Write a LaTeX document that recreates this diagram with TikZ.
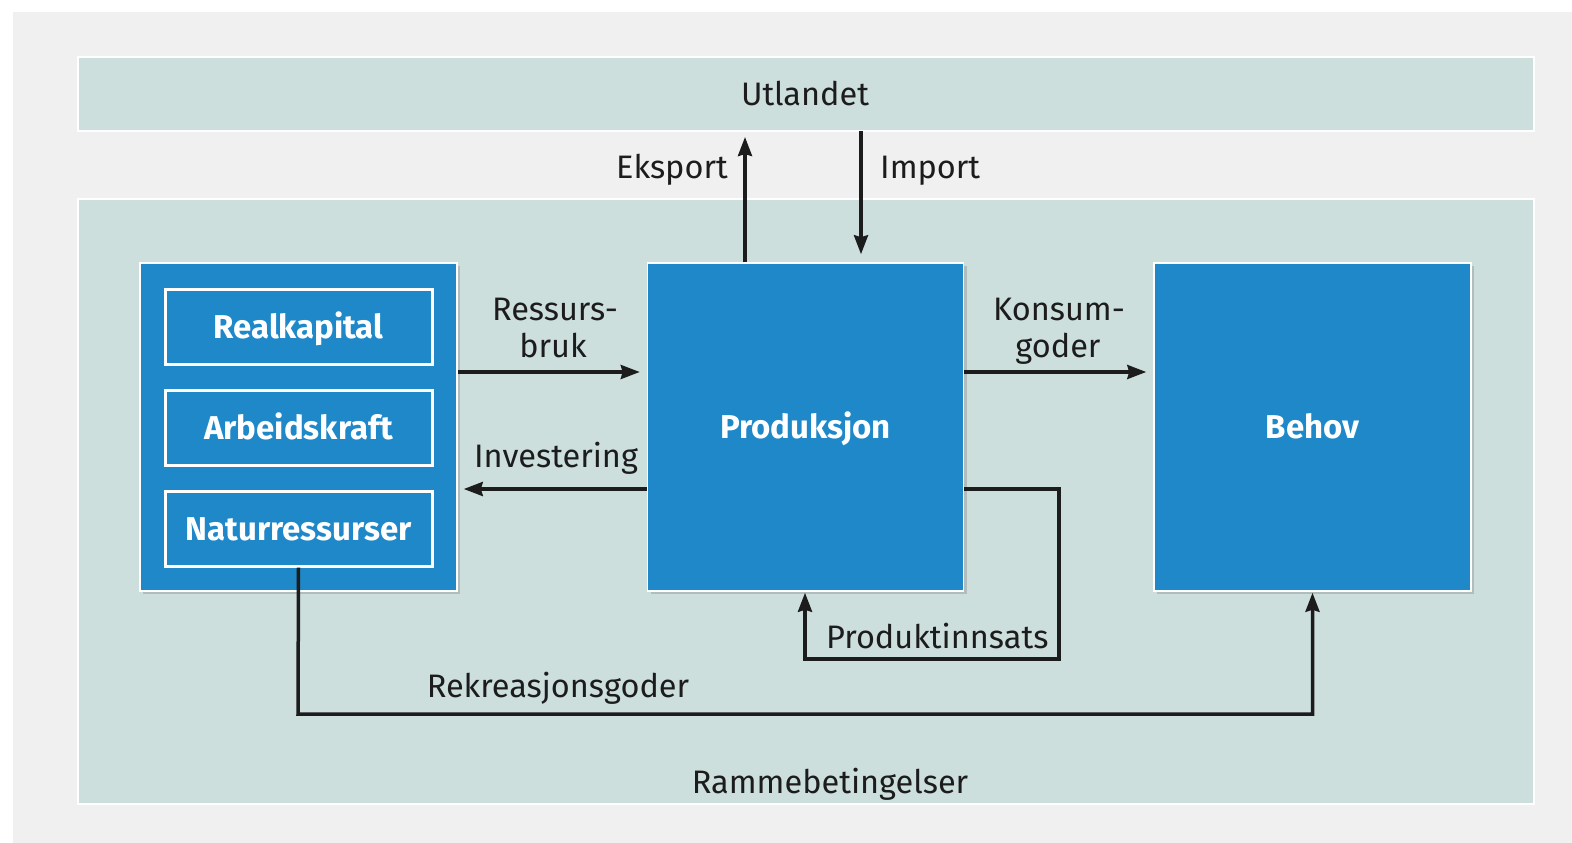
\documentclass[tikz,border=0pt]{standalone}
\usepackage{fontspec}
\setmainfont{Fira Sans}
\usetikzlibrary{arrows.meta,shadows}
\definecolor{pagegray}{RGB}{240,240,240}
\definecolor{teal}{RGB}{204,223,221}
\definecolor{bluebox}{RGB}{30,136,200}
\definecolor{ink}{RGB}{28,28,28}
\tikzset{
  band/.style={draw=white, line width=2pt, fill=teal, inner sep=0pt},
  bbox/.style={draw=white, line width=1.5pt, fill=bluebox, inner sep=0pt,
     text=white, font=\fontsize{33}{38}\selectfont\bfseries,
     text height=23pt, text depth=0pt,
     drop shadow={opacity=0.35, shadow xshift=3pt, shadow yshift=-3pt}},
  ibox/.style={draw=white, line width=3pt, fill=bluebox, inner sep=0pt,
     text=white, font=\fontsize{33}{38}\selectfont\bfseries,
     text height=23pt, text depth=0pt,
     minimum width=267pt, minimum height=75pt},
  lbl/.style={text=ink, font=\fontsize{32.5}{37}\selectfont, inner sep=0pt, anchor=base},
  arr/.style={draw=ink, line width=3.5pt, -{Stealth[length=19pt,width=14pt,inset=2pt]}},
}
\begin{document}
\begin{tikzpicture}[x=1pt,y=-1pt]
\useasboundingbox (0,0) rectangle (1572,843);
\fill[white] (0,0) rectangle (1572,843);
\fill[pagegray] (13,12) rectangle (1572,843);
% bands
\node[band, minimum width=1456pt, minimum height=74pt] (utl) at (806,94) {};
\node[lbl] (utltxt) at (805,106) {Utlandet};
\node[band, minimum width=1456pt, minimum height=605pt] (ramme) at (806,501.5) {};
\node[lbl] (rammetxt) at (830,793) {Rammebetingelser};
% boxes
\node[bbox, minimum width=317pt, minimum height=328pt] (left) at (298.5,427) {};
\node[ibox] (real) at (298.5,327) {Realkapital};
\node[ibox] (arb) at (298.5,427.5) {Arbeidskraft};
\node[ibox] (nat) at (298.5,528.5) {Naturressurser};
\node[bbox, minimum width=316pt, minimum height=328pt] (prod) at (805.5,427) {Produksjon};
\node[bbox, minimum width=317pt, minimum height=328pt] (behov) at (1312.5,427) {Behov};
% coordinates
\coordinate (eks) at (745,137);
\coordinate (imp) at (861,131);
\coordinate (ry) at (0,372);
\coordinate (iy) at (0,489);
\coordinate (pr) at (1059,659);
\coordinate (pl) at (805,659);
\coordinate (rek) at (298,714);
% connectors
\draw[arr] (prod.north -| eks) -- (eks);
\draw[arr, shorten >=8pt] (imp) -- (imp |- prod.north);
\draw[arr, shorten >=7pt] (left.east |- ry) -- (prod.west |- ry);
\draw[arr, shorten >=7pt] (prod.east |- ry) -- (behov.west |- ry);
\draw[arr, shorten >=6pt] (prod.west |- iy) -- (left.east |- iy);
\draw[arr, shorten >=1pt] (prod.east |- iy) -| (pr) -- (pl) -- (pl |- prod.south);
\draw[arr, shorten >=1pt] (nat.south) -- (rek) -| (behov.south);
% labels
\node[lbl, anchor=base east] (eksl) at (728,178) {Eksport};
\node[lbl, anchor=base west] (impl) at (880,178) {Import};
\node[lbl] (resl1) at (555,320) {Ressurs-};
\node[lbl] (resl2) at (553,357) {bruk};
\node[lbl] (konl1) at (1059,320) {Konsum-};
\node[lbl] (konl2) at (1058,357) {goder};
\node[lbl] (invl) at (556,467) {Investering};
\node[lbl, anchor=base west] (prodl) at (826,648) {Produktinnsats};
\node[lbl] (rekl) at (558,697) {Rekreasjonsgoder};
\end{tikzpicture}
\end{document}
